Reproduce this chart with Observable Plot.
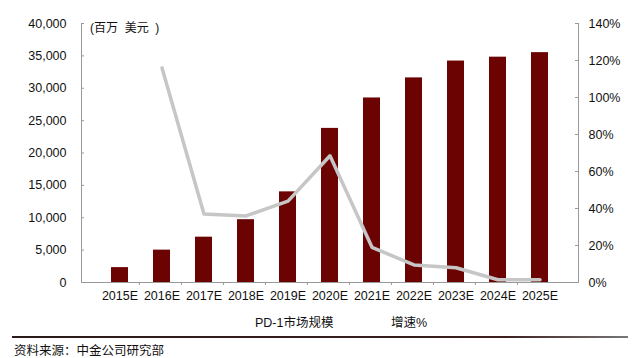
<!DOCTYPE html>
<html><head><meta charset="utf-8">
<script src="https://cdn.jsdelivr.net/npm/d3@7"></script>
<script src="https://cdn.jsdelivr.net/npm/@observablehq/plot@0.6"></script>
<style>
body{margin:0;background:#fff;font-family:"Liberation Sans",Arial,"Noto Sans CJK SC",sans-serif;}
#wrap{position:relative;width:640px;height:358px;overflow:hidden;}
#chart{position:absolute;left:0;top:0;}
.t{position:absolute;font-size:12.5px;color:#111;white-space:nowrap;font-family:"Liberation Sans",Arial,"Noto Sans CJK SC",sans-serif;}
#rule{position:absolute;left:12px;top:336px;width:616px;height:2px;background:linear-gradient(to right,#2a1a1a,#3d1f1f 80%,#777);}
</style></head>
<body><div id="wrap"><div id="chart"></div>
<div class="t" style="left:90px;top:18px;font-size:12px">(百万&nbsp; 美元&nbsp; )</div>
<div class="t" style="left:255px;top:312px">PD-1市场规模</div>
<div class="t" style="left:391px;top:312px">增速%</div>
<div id="rule"></div>
<div class="t" style="left:14px;top:340px;font-size:12.5px">资料来源：中金公司研究部</div>
</div>
<script>
const years = ["2015E","2016E","2017E","2018E","2019E","2020E","2021E","2022E","2023E","2024E","2025E"];
const marketSize = [2300,5000,7000,9700,14000,23800,28500,31600,34200,34800,35500];
const growth = [null,116,37,36,44,68.5,19,9.5,8,1.5,1.5];
const leftTicks = [0,5000,10000,15000,20000,25000,30000,35000,40000];
const rightTicks = [0,20,40,60,80,100,120,140];

const k = 40000/140;
const bars = years.map((y,i)=>({year:y, value:marketSize[i]}));
const line = years.map((y,i)=>({year:y, g:growth[i]})).filter(d=>d.g!=null);

const W = 640, ML = 81, MR = 62;
const step = (W-ML-MR)/years.length;
const axisColor = "#999";
const plot = Plot.plot({
  width:W, height:310,
  marginLeft:ML, marginRight:MR, marginTop:23, marginBottom:28,
  style:{fontFamily:"'Liberation Sans', Arial, sans-serif", fontSize:"12.5px", color:"#111", background:"transparent"},
  x:{domain:years, padding:0.6, label:null},
  y:{domain:[0,40000], label:null},
  marks:[
    Plot.barY(bars,{x:"year", y:"value", fill:"#6c0303"}),
    Plot.lineY(line,{x:"year", y:d=>d.g*k, stroke:"#c6c6c6", strokeWidth:3.5, curve:"linear"}),
    Plot.axisY(leftTicks,{anchor:"left", tickFormat:d3.format(","), tickSize:-3, tickPadding:18, stroke:axisColor}),
    Plot.axisY(rightTicks.map(v=>v*k),{anchor:"right", tickFormat:d=>Math.round(d/k)+"%", tickSize:-4, tickPadding:14, stroke:axisColor}),
    Plot.axisX({anchor:"bottom", tickSize:0, tickPadding:9}),
    Plot.axisX(years.slice(1),{anchor:"bottom", tickSize:3, text:null, dx:-step/2, stroke:axisColor}),
    Plot.frame({anchor:"left", stroke:axisColor}),
    Plot.frame({anchor:"right", stroke:axisColor}),
    Plot.frame({anchor:"bottom", stroke:axisColor})
  ]
});
document.getElementById("chart").appendChild(plot);
</script>
</body></html>
